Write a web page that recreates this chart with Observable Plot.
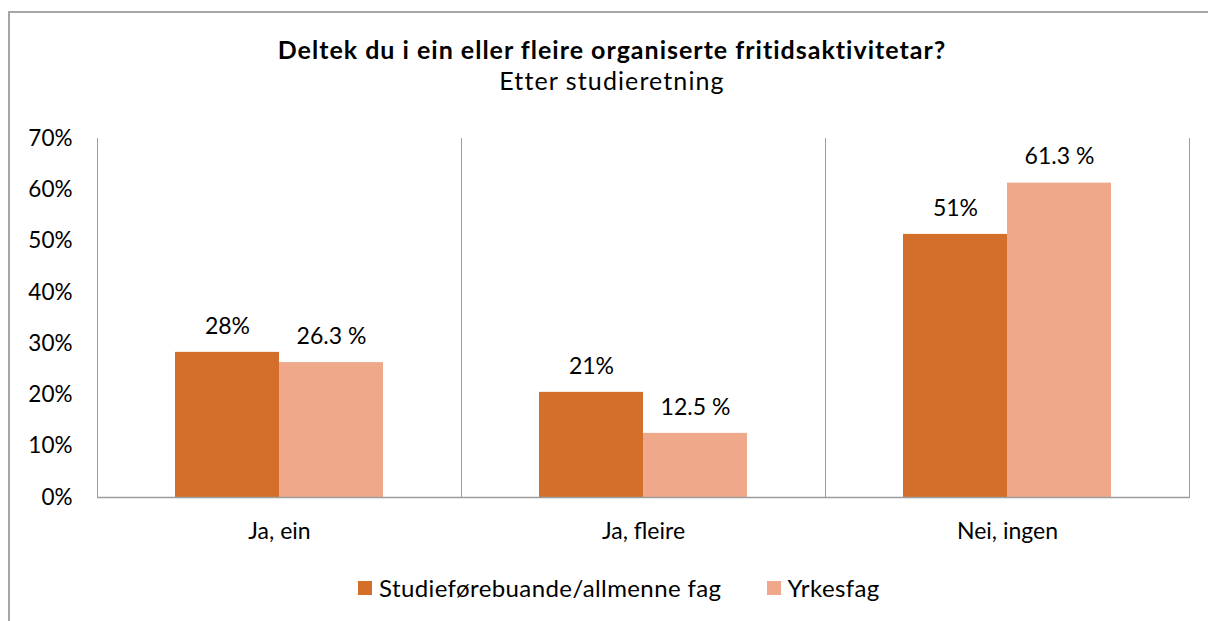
<!DOCTYPE html>
<html>
<head>
<meta charset="utf-8">
<script src="https://cdn.jsdelivr.net/npm/d3@7"></script>
<script src="https://cdn.jsdelivr.net/npm/@observablehq/plot@0.6"></script>
<style>
  html, body { margin: 0; padding: 0; background: #fff; width: 1208px; height: 621px; overflow: hidden; }
  body { position: relative; font-family: Lato, "Open Sans", sans-serif; color: #000; }
  #border { position: absolute; left: 8px; top: 11px; width: 1400px; height: 800px;
            border-top: 2px solid #a6a6a6; border-left: 2px solid #a6a6a6; }
  .t { position: absolute; left: 612px; transform: translateX(-50%); white-space: nowrap; line-height: 25px; }
  #title { top: 36.5px; font-size: 25px; font-weight: bold; letter-spacing: 1px; }
  #subtitle { top: 67.5px; font-size: 25px; letter-spacing: 1.1px; }
  #chart { position: absolute; left: 0; top: 0; }
  #legend { position: absolute; top: 576px; left: 358px; display: flex; align-items: center; font-size: 24px; letter-spacing: 0.4px; line-height: 24px; white-space: nowrap; }
  .sw { display: inline-block; width: 14px; height: 14px; margin-right: 7px; }
  .item { display: flex; align-items: center; margin-right: 45px; }
</style>
</head>
<body>
<div id="border"></div>
<div id="title" class="t">Deltek du i ein eller fleire organiserte fritidsaktivitetar?</div>
<div id="subtitle" class="t">Etter studieretning</div>
<div id="chart"></div>
<div id="legend"></div>
<script>
const categories = ["Ja, ein", "Ja, fleire", "Nei, ingen"];
const series = ["Studieførebuande/allmenne fag", "Yrkesfag"];
const studieValues = [28.3, 20.5, 51.3];
const yrkesValues = [26.3, 12.5, 61.3];
const studieLabels = ["28%", "21%", "51%"];
const yrkesLabels = ["26.3 %", "12.5 %", "61.3 %"];
const colors = ["#D36F2B", "#F0A88A"];
const yTicks = [0, 10, 20, 30, 40, 50, 60, 70];

const data = categories.flatMap((c, i) => [
  {category: c, series: series[0], value: studieValues[i], label: studieLabels[i]},
  {category: c, series: series[1], value: yrkesValues[i], label: yrkesLabels[i]}
]);

const lineColor = "#9c9c9c";

const chart = Plot.plot({
  width: 1208,
  height: 560,
  marginTop: 138,
  marginLeft: 97,
  marginRight: 19,
  marginBottom: 63,
  style: {fontFamily: "Lato, 'Open Sans', sans-serif", fontSize: "22px", color: "#000", background: "transparent", overflow: "visible"},
  fx: {domain: categories, padding: 0, label: null},
  x: {domain: series, paddingInner: 0, paddingOuter: 0.745, axis: null},
  y: {domain: [0, 70], axis: null},
  color: {domain: series, range: colors},
  marks: [
    Plot.barY(data, {fx: "category", x: "series", y: "value", fill: "series"}),
    Plot.frame({anchor: "left", stroke: lineColor, strokeOpacity: 1}),
    Plot.frame({anchor: "right", stroke: lineColor, strokeOpacity: 1}),
    Plot.ruleY([0], {stroke: lineColor, strokeWidth: 1.5}),
    Plot.text(data, {fx: "category", x: "series", y: "value", text: "label", dy: -26, fontSize: 23, fill: "#000"}),
    Plot.axisY({ticks: yTicks, tickSize: 0, tickPadding: 25, tickFormat: d => d + "%", fontSize: 22.5, label: null}),
    Plot.axisFx({anchor: "bottom", tickSize: 0, tickPadding: 25, fontSize: 23, label: null})
  ]
});
document.getElementById("chart").appendChild(chart);

const legend = document.getElementById("legend");
series.forEach((s, i) => {
  const item = document.createElement("div");
  item.className = "item";
  const sw = document.createElement("span");
  sw.className = "sw";
  sw.style.background = colors[i];
  item.appendChild(sw);
  item.appendChild(document.createTextNode(s));
  legend.appendChild(item);
});
</script>
</body>
</html>
